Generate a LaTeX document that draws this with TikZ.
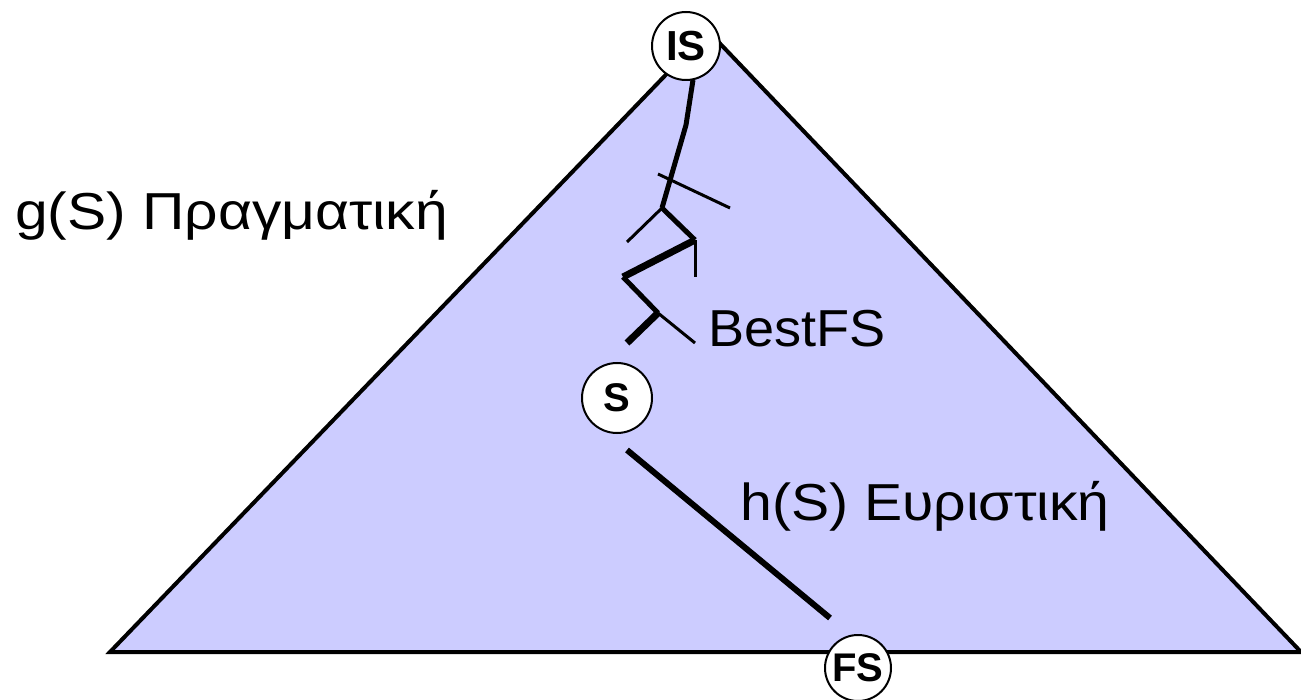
\documentclass[tikz,border=0pt]{standalone}
\usepackage{fontspec}
\setmainfont{Liberation Sans}
\definecolor{trifill}{RGB}{204,204,255}
\begin{document}
\begin{tikzpicture}[x=1pt,y=-1pt,
  state/.style={circle,draw=black,line width=2pt,fill=white,minimum size=68pt,inner sep=0pt,
    font=\fontsize{42}{46}\selectfont\bfseries},
  lbl/.style={anchor=base west,inner sep=0pt,font=\fontsize{52}{60}\selectfont},
  thin/.style={line width=3pt},
  med/.style={line width=5pt},
  thick/.style={line width=7pt},
  tri/.style={fill=trifill,draw=black,line width=4pt,line join=miter}]
\useasboundingbox (0,0) rectangle (1301,700);
\coordinate (L) at (110,652);
\coordinate (T) at (708,31);
\coordinate (R) at (1301,652);
\filldraw[tri] (L) -- (T) -- (R) -- cycle;
% BestFS path
\coordinate (a0) at (693,80);
\coordinate (a1) at (686,125);
\coordinate (a2) at (662,208);
\coordinate (b0) at (658,174);
\coordinate (b1) at (730,208);
\coordinate (c1) at (627,242);
\coordinate (c2) at (695,240);
\coordinate (c3) at (695,277);
\coordinate (d1) at (623,277);
\coordinate (d2) at (658,313);
\coordinate (d3) at (627,343);
\coordinate (d4) at (695,343);
\draw[med] (a0) -- (a1) -- (a2);
\draw[thin] (b0) -- (b1);
\draw[thin] (a2) -- (c1);
\draw[med] (a2) -- (c2);
\draw[thin] (c2) -- (c3);
\draw[thick] (c2) -- (d1);
\draw[med] (d1) -- (d2);
\draw[thick] (d2) -- (d3);
\draw[thin] (d2) -- (d4);
% h line
\coordinate (h0) at (627,450);
\coordinate (h1) at (830,618);
\draw[line width=6pt] (h0) -- (h1);
% nodes
\node[state] (IS) at (686,46) {IS};
\node[state,minimum size=70pt,font=\fontsize{40}{44}\selectfont\bfseries] (S) at (617,398) {S};
\node[state,minimum size=66pt,font=\fontsize{40}{44}\selectfont\bfseries] (FS) at (858,668) {FS};
% labels
\node[lbl] (g) at (15,230) {\scalebox{1.13}[1]{g(S) Πραγματική}};
\node[lbl] (best) at (708,347) {\scalebox{1.04}[1]{BestFS}};
\node[lbl] (h) at (740,520) {\scalebox{1.10}[1]{h(S) Ευριστική}};
\end{tikzpicture}
\end{document}
